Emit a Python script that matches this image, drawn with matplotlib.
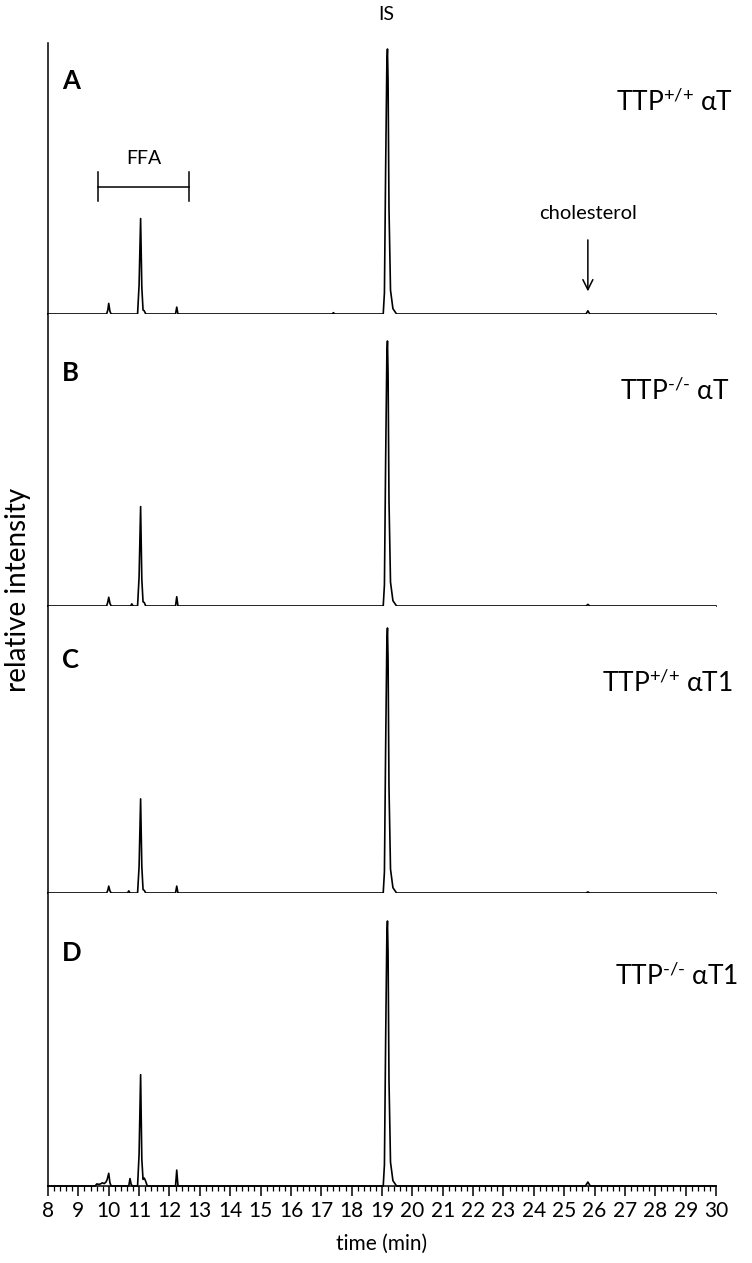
import matplotlib
matplotlib.use('Agg')

import matplotlib.pyplot as plt
import numpy as np

# 글꼴 설정 (α 는 DejaVu 로 대체될 수 있도록 목록으로 지정)
plt.rcParams['font.family'] = ['Lato', 'DejaVu Sans']
plt.rcParams['mathtext.fontset'] = 'custom'
plt.rcParams['mathtext.rm'] = 'Lato'
plt.rcParams['mathtext.it'] = 'Lato:italic'
plt.rcParams['mathtext.bf'] = 'Lato:bold'

# ---- 데이터 (IS 피크 = 100 으로 정규화한 상대 강도) ----
panel_letters = ['A', 'B', 'C', 'D']
sample_labels = [r'TTP$^{\text{+/+}}$ αT', r'TTP$^{\text{-/-}}$ αT',
                 r'TTP$^{\text{+/+}}$ αT1', r'TTP$^{\text{-/-}}$ αT1']

time_A = [8.0, 9.93, 9.97, 10.0, 10.04, 10.08, 10.95, 11.0, 11.05, 11.09, 11.13,
          11.17, 11.22, 12.2, 12.24, 12.28, 17.36, 17.4, 17.44,
          19.04, 19.08, 19.12, 19.16, 19.18, 19.2, 19.23, 19.28, 19.36, 19.48,
          25.72, 25.78, 25.84, 30.0]
signal_A = [0, 0, 1.5, 4.0, 1.0, 0, 0, 11, 36, 10, 1.5,
            1.2, 0, 0, 2.6, 0, 0, 0.5, 0,
            0, 8, 55, 95, 100, 88, 40, 9, 2, 0,
            0, 1.2, 0, 0]

time_B = [8.0, 9.93, 9.97, 10.0, 10.04, 10.08, 10.72, 10.76, 10.8, 10.95, 11.0,
          11.05, 11.09, 11.13, 11.17, 11.22, 12.2, 12.24, 12.28,
          19.04, 19.08, 19.12, 19.16, 19.18, 19.2, 19.23, 19.28, 19.36, 19.48,
          25.72, 25.78, 25.84, 30.0]
signal_B = [0, 0, 1.5, 3.3, 1.0, 0, 0, 0.8, 0, 0, 11,
            37.5, 10, 1.6, 1.3, 0, 0, 3.5, 0,
            0, 8, 55, 95, 100, 88, 40, 9, 2, 0,
            0, 0.6, 0, 0]

time_C = [8.0, 9.93, 9.97, 10.0, 10.04, 10.08, 10.62, 10.66, 10.7, 10.95, 11.0,
          11.05, 11.09, 11.13, 11.17, 11.22, 12.2, 12.24, 12.28,
          19.04, 19.08, 19.12, 19.16, 19.18, 19.2, 19.23, 19.28, 19.36, 19.48,
          25.72, 25.78, 25.84, 30.0]
signal_C = [0, 0, 1.0, 2.6, 0.8, 0, 0, 0.8, 0, 0, 10,
            35.5, 10, 1.3, 1.0, 0, 0, 2.6, 0,
            0, 8, 55, 95, 100, 88, 40, 9, 2, 0,
            0, 0.4, 0, 0]

time_D = [8.0, 9.55, 9.61, 9.67, 9.73, 9.79, 9.85, 9.91, 9.95, 10.0, 10.04, 10.08,
          10.66, 10.7, 10.74, 10.78, 10.95, 11.0, 11.05, 11.09, 11.13, 11.17,
          11.21, 11.27, 12.2, 12.24, 12.28,
          19.04, 19.08, 19.12, 19.16, 19.18, 19.2, 19.23, 19.28, 19.36, 19.48,
          25.7, 25.78, 25.86, 30.0]
signal_D = [0, 0, 0.8, 0.6, 0.8, 1.2, 0.9, 1.5, 2.5, 4.8, 1.2, 0,
            0, 2.8, 0.6, 0, 0, 12, 42, 10, 2.5, 3.0,
            2.0, 0, 0, 6.0, 0,
            0, 8, 55, 95, 100, 88, 40, 9, 2, 0,
            0, 1.5, 0, 0]

times = [time_A, time_B, time_C, time_D]
signals = [signal_A, signal_B, signal_C, signal_D]

# 주석 위치 (분)
is_time = 19.18
ffa_range = (9.65, 12.64)
chol_time = 25.78

# ---- 레이아웃 (픽셀 기준) ----
W, H = 752, 1263
x0_px, x1_px = 48, 716
panel_px = [(43, 314), (314, 606), (606, 893), (893, 1186)]
peak_px = 265
label_x = [26.7, 26.84, 26.25, 26.68]
label_y = [80, 81, 79, 79]

fig = plt.figure(figsize=(W / 100, H / 100), dpi=100)
axes = []
for i, (top, bot) in enumerate(panel_px):
    ax = fig.add_axes([x0_px / W, 1 - bot / H, (x1_px - x0_px) / W, (bot - top) / H])
    ax.plot(times[i], signals[i], color='black', lw=1.2, clip_on=False)
    ax.set_xlim(8, 30)
    ax.set_ylim(0, 100 * (bot - top) / peak_px)
    for s in ['top', 'right']:
        ax.spines[s].set_visible(False)
    ax.spines['left'].set_linewidth(1.1)
    ax.set_yticks([])
    if i < 3:
        ax.spines['bottom'].set_visible(False)
        ax.set_xticks([])
    # 패널 문자와 시료 이름
    ax.text(8.45, 88, panel_letters[i], fontsize=18.5, fontweight='bold', va='center', ha='left')
    ax.text(label_x[i], label_y[i], sample_labels[i], fontsize=19, va='center', ha='left')
    axes.append(ax)

# 아래 축 눈금
axD = axes[3]
axD.spines['bottom'].set_linewidth(1.1)
axD.set_xticks(np.arange(8, 31, 1))
axD.set_xticks(np.arange(8, 30.01, 0.2), minor=True)
axD.tick_params(axis='x', which='major', direction='out', length=7, width=1.1, labelsize=15, pad=4)
axD.tick_params(axis='x', which='minor', direction='out', length=3.5, width=0.9)
axD.set_xlabel('time (min)', fontsize=15, labelpad=9)

# 패널 A 의 주석
axA = axes[0]
axA.text(is_time - 0.05, 113, 'IS', fontsize=14, ha='center', va='center')
axA.plot(ffa_range, [48, 48], color='black', lw=1.1)
for xe in ffa_range:
    axA.plot([xe, xe], [42.5, 53.5], color='black', lw=1.1)
axA.text(sum(ffa_range) / 2, 58.5, 'FFA', fontsize=14, ha='center', va='center')
axA.text(chol_time, 38, 'cholesterol', fontsize=14.5, ha='center', va='center')
axA.annotate('', xy=(chol_time, 7.5), xytext=(chol_time, 29),
             arrowprops=dict(arrowstyle='->', color='black', lw=1.1, mutation_scale=18))

fig.text(18 / W, 1 - 590 / H, 'relative intensity', rotation=90, fontsize=20,
         ha='center', va='center')

plt.savefig('out.png', dpi=100)
plt.close()
